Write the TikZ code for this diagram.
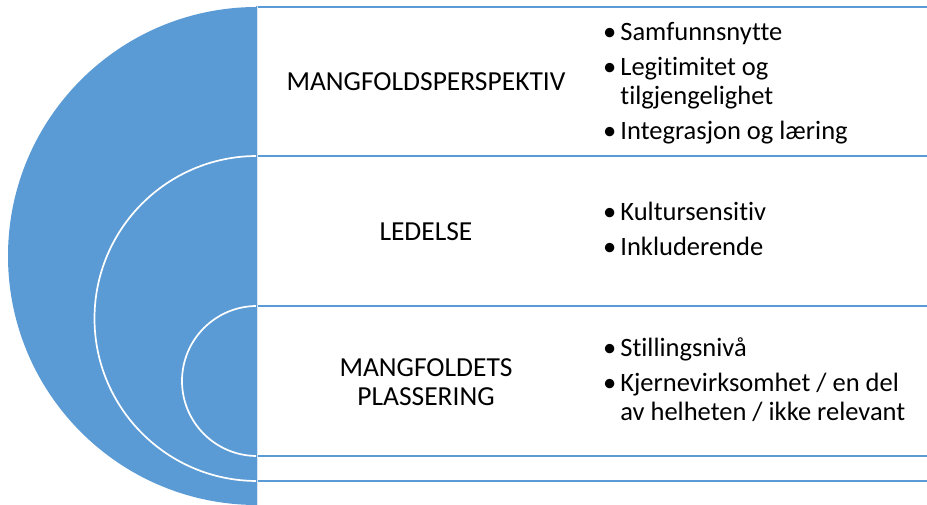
\documentclass[tikz,border=0pt]{standalone}
\usepackage{fontspec}
\setmainfont[RawFeature=-liga]{Carlito}
\usetikzlibrary{positioning}
\definecolor{ringblue}{HTML}{5B9BD5}

\begin{document}
\begin{tikzpicture}[
    x=1pt, y=1pt,
    % Styles
    half disc/.style={fill=ringblue},
    ring line/.style={draw=white, line width=1.7pt},
    row box/.style={draw=ringblue, line width=1.2pt},
    side line/.style={draw=ringblue, double=white!75!ringblue, double distance=0.7pt, line width=0.8pt},
    row label/.style={align=center, font=\fontsize{27.5}{29}\selectfont, inner sep=0pt},
    bullet list/.style={anchor=west, align=left, font=\fontsize{26.5}{29}\selectfont, inner sep=0pt}
]
\useasboundingbox (0,0) rectangle (927,505);
\clip (0,0) rectangle (927,505);

% Nested half discs
\fill[half disc] (257,498) arc[start angle=90, end angle=270, radius=249] -- cycle;
\draw[ring line] (257,349) arc[start angle=90, end angle=270, radius=162.5];
\draw[ring line] (257,199) arc[start angle=90, end angle=270, radius=75];

% Rows
\draw[row box] (257,498) rectangle (940,349);
\draw[row box] (257,349) rectangle (940,199);
\draw[row box] (257,199) rectangle (940,49);
\draw[row box] (257,49) rectangle (940,24);
\draw[side line] (257,-5) -- (257,498.6);

% Row labels
\node[row label] (persp) at (426,423.5) {MANGFOLDSPERSPEKTIV};
\node[row label] (led) at (426,273) {LEDELSE};
\node[row label] (plass) at (426,123) {MANGFOLDETS\\PLASSERING};

% Bullet lists
\node[bullet list] (persp list) at (603,421) {%
  \begin{tabular}{@{}l@{\hspace{4pt}}l@{}}
  • & Samfunnsnytte\\[6pt]
  • & Legitimitet og\\
    & tilgjengelighet\\[6pt]
  • & Integrasjon og læring
  \end{tabular}};
\node[bullet list] (led list) at (603,273) {%
  \begin{tabular}{@{}l@{\hspace{4pt}}l@{}}
  • & Kultursensitiv\\[6pt]
  • & Inkluderende
  \end{tabular}};
\node[bullet list] (plass list) at (603,122) {%
  \begin{tabular}{@{}l@{\hspace{4pt}}l@{}}
  • & Stillingsnivå\\[6pt]
  • & Kjernevirksomhet / en del\\
    & av helheten / ikke relevant
  \end{tabular}};

\end{tikzpicture}
\end{document}
